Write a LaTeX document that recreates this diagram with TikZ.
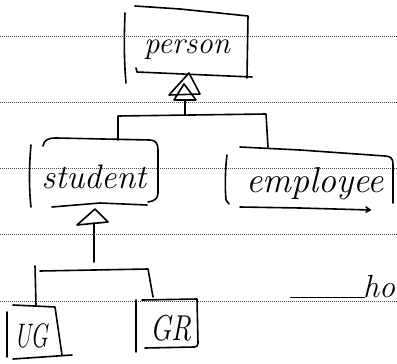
\documentclass[tikz,border=0pt]{standalone}
\begin{document}
\begin{tikzpicture}[x=1pt,y=-1pt,
  ink/.style={line width=1.6pt,line cap=round,line join=round,black},
  rule/.style={line width=0.7pt,gray!60!black,dash pattern=on 1.2pt off 0.8pt},
  hand/.style={anchor=base,inner sep=0pt,font=\itshape}]
\useasboundingbox (0,0) rectangle (397,364);
% ruled paper lines
\foreach \yy in {36,102,168,234,301}
  \draw[rule] (0,\yy) -- (397,\yy);

% labels
\node[hand,font=\fontsize{31}{31}\selectfont\itshape] (person) at (187,53) {person};
\node[hand,font=\fontsize{34}{34}\selectfont\itshape] (student) at (94,188) {student};
\node[hand,font=\fontsize{36}{36}\selectfont\itshape] (employee) at (315,192) {employee};
\node[hand,font=\fontsize{34}{34}\selectfont\itshape,xscale=0.68] (ug) at (31,347) {UG};
\node[hand,font=\fontsize{36}{36}\selectfont\itshape,xscale=0.78] (gr) at (171,340) {GR};
\node[hand,anchor=base west,font=\fontsize{32}{32}\selectfont\itshape] (ho) at (363,297) {ho};

% person box
\draw[ink] (125,13) .. controls (124,40) and (124,60) .. (126,83);
\draw[ink] (135,6) -- (180,9) -- (248,16) -- (247,78);
\draw[ink] (136,68) -- (137,72) -- (252,77);
% generalization triangle under person
\coordinate (pt) at (189,73);
\draw[ink] (pt) -- (169,95) -- (200,94) -- cycle;
\draw[ink] (184,84) -- (174,100) -- (196,100) -- cycle;
\coordinate (pb) at (185,100);
\coordinate (pj) at (185,115);
\draw[ink] (pb) -- (pj);
\coordinate (sl) at (118,140);
\coordinate (er) at (268,147);
\draw[ink] (sl) -- (118,116) -- (266,114) -- (er);

% student box
\draw[ink] (31,145) .. controls (29,165) and (29,190) .. (31,207);
\draw[ink] (43,146) .. controls (44,140) and (48,138) .. (56,138) -- (150,140)
  .. controls (156,140) and (158,144) .. (158,150) -- (158,193)
  .. controls (158,199) and (154,201) .. (148,202);
\draw[ink] (52,207) -- (100,203) -- (147,205);
% triangle under student
\coordinate (st) at (95,209);
\draw[ink] (st) -- (77,225) -- (108,222) -- cycle;
\coordinate (sb) at (94,223);
\coordinate (sj) at (94,262);
\draw[ink] (sb) -- (sj);
\coordinate (ugt) at (36,305);
\coordinate (grt) at (153,297);
\draw[ink] (ugt) -- (35,266);
\draw[ink] (40,271) -- (148,269) -- (grt);

% employee box
\draw[ink] (227,155) .. controls (225,170) and (225,190) .. (226,200) -- (229,204);
\draw[ink] (240,147) -- (300,150) -- (385,156) .. controls (391,156) and (393,159) .. (393,164) -- (393,203);
\draw[ink] (240,207) -- (300,208) -- (370,210);
\draw[ink] (366,207) -- (370,210) -- (366,212);

% UG box
\draw[ink] (7,312) -- (7,357);
\draw[ink] (13,305) -- (55,307) -- (62,355);
\draw[ink] (13,359) -- (72,355);

% GR box
\draw[ink] (136,300) -- (136,352);
\draw[ink] (142,300) -- (197,299) -- (198,343) .. controls (198,346) and (197,347) .. (194,347) -- (145,348);

% line to "ho"
\draw[line width=1pt,black] (290,297) -- (365,297);
\end{tikzpicture}
\end{document}
